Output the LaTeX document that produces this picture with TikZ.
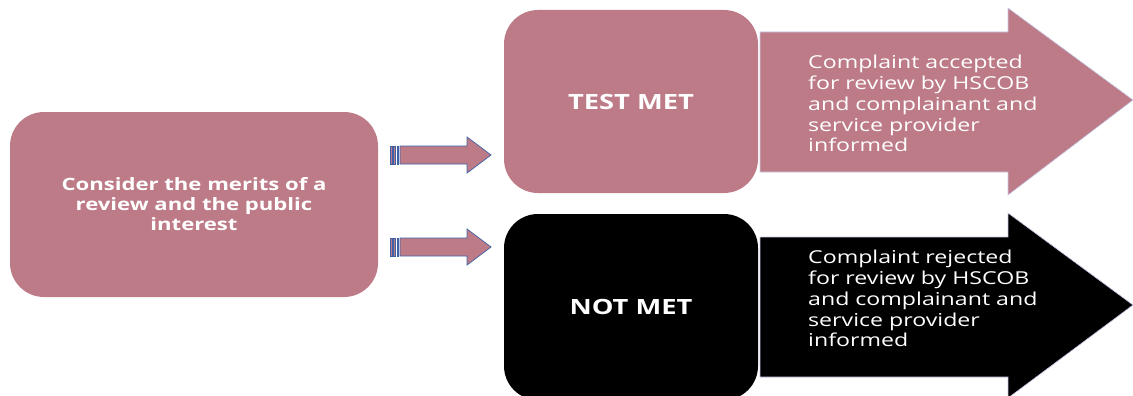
\documentclass[tikz,border=0pt]{standalone}
\usepackage{fontspec}
\setmainfont[FakeStretch=1.3]{Open Sans}
\definecolor{rose}{HTML}{BD7B87}
\definecolor{arrblue}{HTML}{4060A8}
\definecolor{lav}{HTML}{C8C8E8}
\begin{document}
\begin{tikzpicture}[x=1pt,y=-1pt,
  box/.style={rounded corners=34pt, inner sep=0pt, text=white, align=center},
  bigarrow/.style={draw=lav, line width=0.6pt},
  smallarrow/.style={fill=rose, draw=arrblue, line width=0.7pt},
  stripe/.style={fill=rose, draw=arrblue, line width=0.5pt},
  desc/.style={anchor=north west, text=white, align=left, inner sep=0pt, font=\fontsize{17.8}{20.8}\selectfont}]
\useasboundingbox (0,0) rectangle (1133,396);
% left box
\node[box, fill=rose, minimum width=368pt, minimum height=185pt, font=\bfseries\fontsize{17}{20}\selectfont] (consider) at (194,204.5) {Consider the merits of a\\review and the public\\interest};
% top-right box
\node[box, fill=rose, minimum width=254pt, minimum height=183pt, font=\bfseries\fontsize{21}{22}\selectfont] (met) at (631,101.5) {TEST MET};
% bottom-right box
\node[box, fill=black, minimum width=254pt, minimum height=186pt, font=\bfseries\fontsize{21}{22}\selectfont] (notmet) at (631,307) {NOT MET};
% big arrows
\draw[bigarrow, fill=rose] (760,32) -- (1008,32) -- (1008,8) -- (1133,100) -- (1008,195) -- (1008,172) -- (760,172) -- cycle;
\draw[bigarrow, fill=black] (760,237) -- (1008,237) -- (1008,213) -- (1133,305) -- (1008,398) -- (1008,377) -- (760,377) -- cycle;
\node[desc] (acc) at (808,55) {Complaint accepted\\for review by HSCOB\\and complainant and\\service provider\\informed};
\node[desc] (rej) at (808,250) {Complaint rejected\\for review by HSCOB\\and complainant and\\service provider\\informed};
% small striped arrows
\foreach \yc in {155,247} {
  \fill[stripe] (390.5,\yc-9) rectangle (392,\yc+9);
  \fill[stripe] (393.5,\yc-9) rectangle (395.5,\yc+9);
  \fill[stripe] (397,\yc-9) rectangle (398.5,\yc+9);
  \draw[smallarrow] (400,\yc-9) -- (467,\yc-9) -- (467,\yc-18) -- (491,\yc) -- (467,\yc+18) -- (467,\yc+9) -- (400,\yc+9) -- cycle;
}
\end{tikzpicture}
\end{document}
